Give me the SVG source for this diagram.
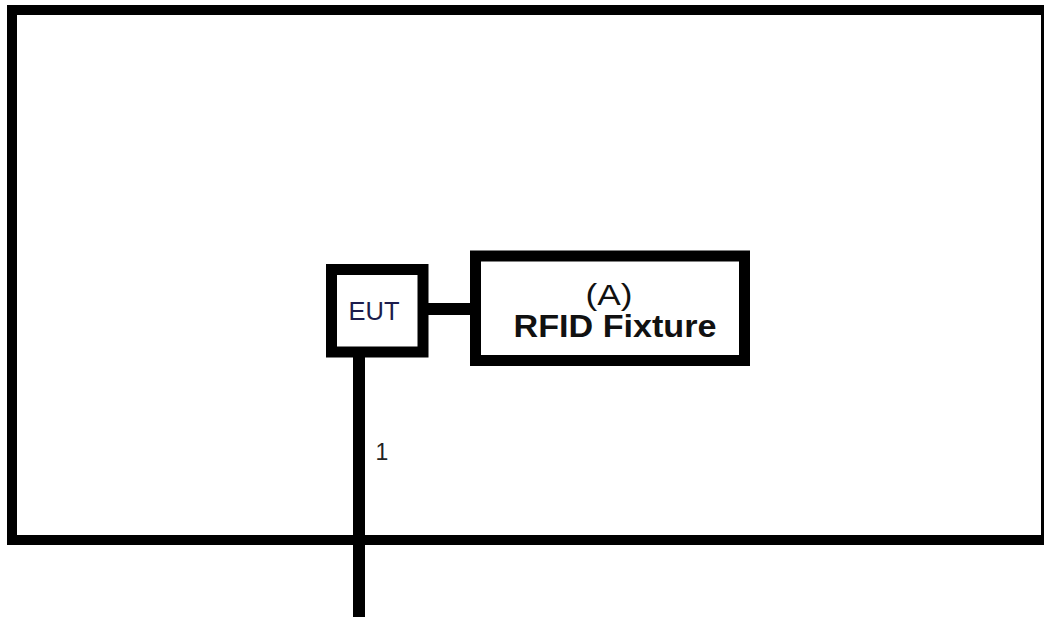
<svg xmlns="http://www.w3.org/2000/svg" width="1044" height="617" viewBox="0 0 1044 617">
<style>
.box{fill:#fff;stroke:#000;stroke-width:11}
.wire{stroke:#000;stroke-width:12;fill:none}
.t{font-family:"Liberation Sans",Arial,sans-serif;text-anchor:middle}
</style>
<rect width="1044" height="617" fill="#fff"/>
<g id="enclosure">
<rect x="12" y="10" width="1034" height="530" fill="none" stroke="#000" stroke-width="10"/>
</g>
<g id="connectors">
<line class="wire" x1="428" y1="309" x2="476" y2="309"/>
<line class="wire" x1="359" y1="356" x2="359" y2="617"/>
<text class="t" x="382" y="460" font-size="23" fill="#222">1</text>
</g>
<g id="eut">
<rect class="box" x="331.5" y="269.5" width="91.5" height="82.5"/>
<text class="t" x="374" y="320" font-size="25" fill="#1c1c4c" textLength="51" lengthAdjust="spacingAndGlyphs">EUT</text>
</g>
<g id="rfid">
<rect class="box" x="475.5" y="256" width="269" height="104.5"/>
<text class="t" x="609" y="305" font-size="30" fill="#111" textLength="47" lengthAdjust="spacingAndGlyphs">(A)</text>
<text class="t" x="615" y="337" font-size="31" font-weight="bold" fill="#111" textLength="203" lengthAdjust="spacingAndGlyphs">RFID Fixture</text>
</g>
</svg>
